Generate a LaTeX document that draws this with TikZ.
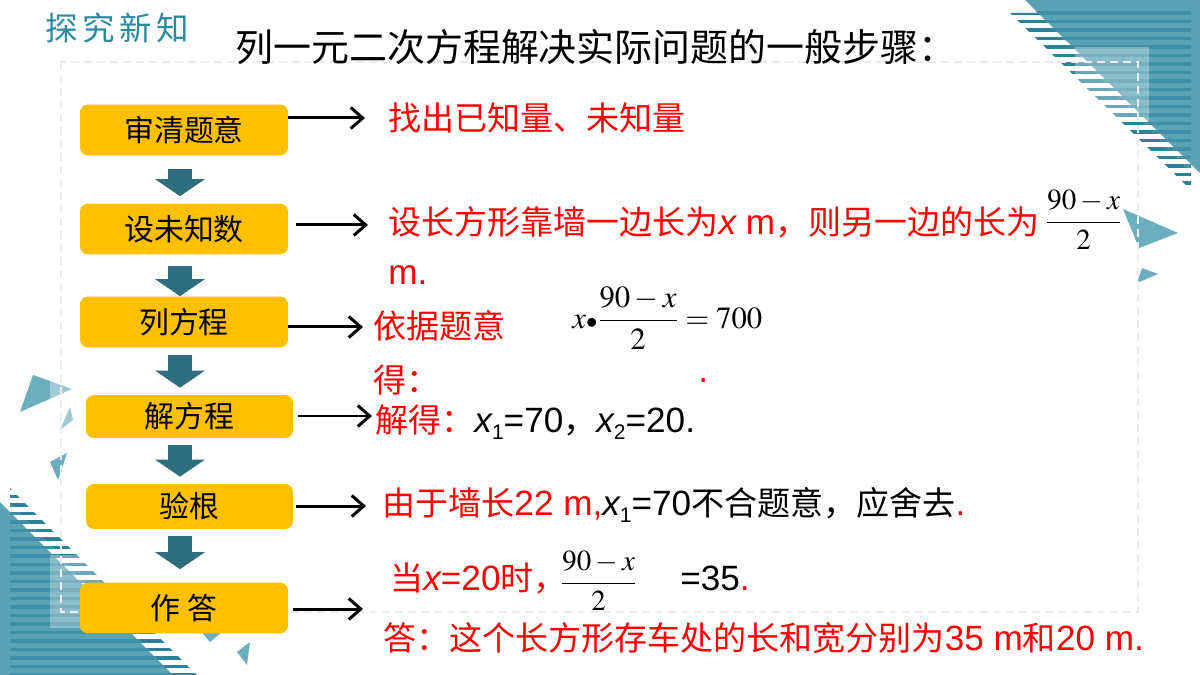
\documentclass[tikz,border=0pt]{standalone}
\usepackage{amsmath}
\usepackage{mathptmx}
\usepackage[no-math]{fontspec}
\usetikzlibrary{arrows.meta}
\setmainfont{Liberation Serif}
\newfontfamily\cjk{Noto Sans CJK SC}
\newfontfamily\lat{Liberation Sans}
\newcommand\ix{{\lat\itshape x}}
\newcommand\lsub[1]{\raisebox{-0.4ex}{\lat\fontsize{12}{12}\selectfont #1}}
\newcommand\ltx[1]{{\lat\fontsize{20}{20}\selectfont #1}}
\definecolor{boxyel}{HTML}{FFC000}
\definecolor{arrteal}{HTML}{2E6E7E}
\definecolor{decteal}{HTML}{5AA3B5}
\definecolor{stripeteal}{HTML}{2B829B}
\definecolor{innerstripe}{HTML}{3F8FA6}
\definecolor{tri}{HTML}{6CAEBE}
\definecolor{titteal}{HTML}{2A8AA0}
\tikzset{
	stepbox/.style={fill=boxyel, rounded corners=0.16cm, minimum width=4.16cm, minimum height=1.02cm, inner sep=0, font=\cjk\fontsize{17}{17}\selectfont},
	downarr/.style={draw=arrteal, line width=0.48cm, -{Triangle[width=0.98cm,length=0.34cm]}, shorten <=0.14cm, shorten >=0.14cm},
	rarr/.style={line width=0.06cm, -{Straight Barb[length=0.24cm,width=0.42cm]}},
	redtxt/.style={anchor=west, inner sep=0, text=red, font=\cjk\fontsize{18.8}{20}\selectfont},
	mathtxt/.style={anchor=west, inner sep=0, font=\fontsize{16.5}{17}\selectfont},
	stripe/.style={draw=stripeteal, line width=0.07cm},
}
\begin{document}
\begin{tikzpicture}[x=0.02cm, y=-0.02cm]
	\fill[white] (0,0) rectangle (1200,675);
	\useasboundingbox (0,0) rectangle (1200,675);
	%corner top right
	\begin{scope}
		\clip (1010,13) -- (1191,13) -- (1191,190) -- cycle;
		\foreach \y in {13,21.5,...,190}
		\draw[stripe] (1000,\y) -- (1200,\y);
	\end{scope}
	\fill[decteal] (1025,0) -- (1200,0) -- (1200,173) -- cycle;
	\begin{scope}
		\clip (1025,0) -- (1191,0) -- (1191,173) -- cycle;
		\foreach \y in {13,21.5,...,190}
		\draw[stripe, innerstripe] (1000,\y) -- (1200,\y);
	\end{scope}
	\fill[white, opacity=0.3] (1075,47) rectangle (1149,122);
	\fill[tri] (1123,209) -- (1178,233) -- (1139,248) -- cycle;
	\fill[tri] (1142,268) -- (1158,274) -- (1137,283) -- cycle;
	%corner bottom left
	\begin{scope}
		\clip (10,488) -- (197,675) -- (10,675) -- cycle;
		\foreach \y in {488,496.5,...,675}
		\draw[stripe] (0,\y) -- (200,\y);
	\end{scope}
	\fill[decteal] (0,502) -- (173,675) -- (0,675) -- cycle;
	\begin{scope}
		\clip (10,502) -- (173,675) -- (10,675) -- cycle;
		\foreach \y in {488,496.5,...,675}
		\draw[stripe, innerstripe] (0,\y) -- (200,\y);
	\end{scope}
	\fill[white, opacity=0.3] (50,555) rectangle (125,628);
	\fill[tri] (33,375) -- (72,389) -- (20,412) -- cycle;
	\fill[tri] (70,407) -- (73,420) -- (60,430) -- cycle;
	\fill[tri] (50,462) -- (67,453) -- (58,480) -- cycle;
	\fill[white, opacity=0.35] (50,370) rectangle (120,445);
	\fill[tri] (198,628) -- (222,632) -- (210,642) -- cycle;
	\fill[tri] (237,652) -- (250,642) -- (247,665) -- cycle;
	%frame
	\draw[gray!15, line width=0.04cm, dash pattern=on 0.16cm off 0.1cm] (61,62) rectangle (1138,612);
	
	%titles
	\node[anchor=west, inner sep=0, text=titteal, font=\cjk\fontsize{18.5}{19}\selectfont\addfontfeature{LetterSpace=14}] (sec) at (45,28) {探究新知};
	\node[anchor=west, inner sep=0, font=\cjk\fontsize{21.6}{22}\selectfont] (title) at (235,47) {列一元二次方程解决实际问题的一般步骤：};
	
	%steps
	\node[stepbox] (b1) at (184,130) {审清题意};
	\node[stepbox] (b2) at (184,229) {设未知数};
	\node[stepbox] (b3) at (184,322) {列方程};
	\node[stepbox, minimum width=4.14cm, minimum height=0.86cm] (b4) at (189.5,416.5) {解方程};
	\node[stepbox, minimum width=4.14cm, minimum height=0.9cm] (b5) at (189.5,506.5) {验根};
	\node[stepbox] (b6) at (184,608) {作\ 答};
	
	\coordinate (ax) at (180,0);
	\draw[downarr, shorten <=0.26cm] (b1.south -| ax) -- (b2.north -| ax);
	\draw[downarr, shorten <=0.22cm, shorten >=0cm] (b2.south -| ax) -- (b3.north -| ax);
	\draw[downarr] (b3.south -| ax) -- (b4.north -| ax);
	\draw[downarr] (b4.south -| ax) -- (b5.north -| ax);
	\draw[downarr, shorten >=0.26cm] (b5.south -| ax) -- (b6.north -| ax);
	
	%arrows to the right
	\coordinate (e1) at (365,118);
	\coordinate (e2) at (368,225);
	\coordinate (e3) at (363,327);
	\coordinate (e4) at (372,416);
	\coordinate (e5) at (366,506);
	\coordinate (e6) at (363,609);
	\draw[rarr] (b1.east |- e1) -- (e1);
	\draw[rarr, shorten <=0.16cm] (b2.east |- e2) -- (e2);
	\draw[rarr] (b3.east |- e3) -- (e3);
	\draw[rarr, shorten <=0.1cm] (b4.east |- e4) -- (e4);
	\draw[rarr, shorten <=0.06cm] (b5.east |- e5) -- (e5);
	\draw[rarr, shorten <=0.1cm] (b6.east |- e6) -- (e6);
	
	%texts
	\node[redtxt] (t1) at (388,118) {找出已知量、未知量};
	\node[redtxt] (t2) at (388,222) {设长方形靠墙一边长为\ltx{\ix\ m}，则另一边的长为};
	\node[mathtxt] (f2) at (1045,220) {$\dfrac{90-x}{2}$};
	\node[redtxt] (t2b) at (388,275) {\ltx{m.}};
	\node[redtxt] (t3) at (373,326) {依据题意};
	\node[redtxt] (t3b) at (373,380) {得：};
	\node[mathtxt, font=\fontsize{17.5}{18}\selectfont] (eq) at (572,318) {$x{\scriptstyle\bullet}\dfrac{90-x}{2}=700$};
	\node[redtxt] (dot) at (698,381) {\ltx{.}};
	\node[redtxt] (t4) at (375,422) {解得：\textcolor{black}{\ltx{\ix\lsub{1}=70}，\ltx{\ix\lsub{2}=20.}}};
	\node[redtxt] (t5) at (382,505) {由于墙长\ltx{22 m,}\textcolor{black}{\ltx{\ix\lsub{1}=70}不合题意，应舍去}\ltx{.}};
	\node[redtxt] (t6) at (390,578) {当\ltx{\ix=20}时，};
	\node[mathtxt] (f6) at (560,581) {$\dfrac{90-x}{2}$};
	\node[redtxt, text=black] (t6b) at (680,578) {\ltx{=35\textcolor{red}{.}}};
	\node[redtxt] (t7) at (383,638) {答：这个长方形存车处的长和宽分别为\ltx{35 m}和\ltx{20 m.}};
\end{tikzpicture}
\end{document}
